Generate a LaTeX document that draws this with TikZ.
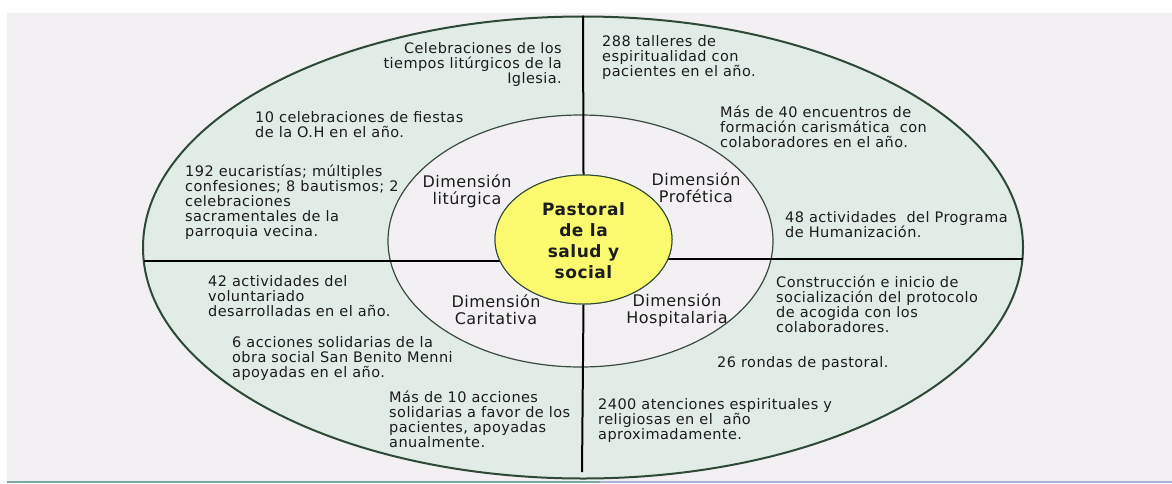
\documentclass[tikz,border=0pt]{standalone}
\usepackage{fontspec}
\setmainfont{DejaVu Sans}[LetterSpace=3]
\usetikzlibrary{shapes.geometric}
\definecolor{bg}{HTML}{F2F0F3}
\definecolor{outerfill}{HTML}{E1ECE7}
\definecolor{rim}{HTML}{2E4A36}
\definecolor{innerrim}{HTML}{3A4A40}
\definecolor{yel}{HTML}{FBF96E}
\definecolor{txt}{HTML}{1C1C1C}
\definecolor{tealline}{HTML}{7AAAA0}
\definecolor{blueline}{HTML}{A8B4D8}
\begin{document}
\begin{tikzpicture}[x=1pt,y=-1pt,
  every node/.style={inner sep=0pt, text=txt},
  info/.style={font=\fontsize{14.5}{15}\selectfont, align=left, anchor=north west},
  infor/.style={info, align=right, anchor=north east},
  dimlabel/.style={font=\fontsize{16}{17}\selectfont, align=center},
  ring/.style={ellipse, draw},
  divider/.style={draw=black, line width=2pt}]
\useasboundingbox (0,0) rectangle (1172,483);
\fill[bg] (7,13) rectangle (1172,481);
\draw[tealline, line width=1.5pt] (7,482) -- (600,482);
\draw[blueline, line width=1.5pt] (600,482) -- (1172,482);

\node[ring, fill=outerfill, draw=rim, line width=2pt, minimum width=880pt, minimum height=462pt] (outer) at (583,247.5) {};
\node[ring, fill=bg, draw=innerrim, line width=1.2pt, minimum width=385pt, minimum height=252pt] (inner) at (580.5,241) {};

% dividers
\coordinate (lw) at (144,261);
\coordinate (le) at (500,261);
\coordinate (rw) at (668,259);
\coordinate (re) at (1022.5,259);
\coordinate (vb) at (582,472);
\node[ring, fill=yel, draw=rim, line width=1pt, minimum width=177pt, minimum height=129pt] (core) at (583.5,239.5) {};
\draw[divider] (outer.north) -- (core.north);
\draw[divider] (core.south) -- (vb);
\draw[divider] (lw) -- (le);
\draw[divider] (rw) -- (re);
\node[ring, fill=yel, draw=rim, line width=1pt, minimum width=177pt, minimum height=129pt] at (core) {};
\node[font=\fontsize{17}{21}\selectfont\bfseries, align=center] (ctext) at (583.5,241) {Pastoral\\de la\\salud y\\social};

% dimension labels
\node[dimlabel] (dlit) at (467,191) {Dimensión\\litúrgica};
\node[dimlabel] (dpro) at (696,188) {Dimensión\\Profética};
\node[dimlabel] (dcar) at (496,310) {Dimensión\\Caritativa};
\node[dimlabel] (dhos) at (677,310) {Dimensión\\Hospitalaria};

% info texts
\node[infor] (t1) at (562,42) {Celebraciones de los\\tiempos litúrgicos de la\\Iglesia.};
\node[info] (t2) at (255,111) {10 celebraciones de fiestas\\de la O.H en el año.};
\node[info] (t3) at (185,165) {192 eucaristías; múltiples\\confesiones; 8 bautismos; 2\\celebraciones\\sacramentales de la\\parroquia vecina.};
\node[info] (t4) at (602,35) {288 talleres de\\espiritualidad con\\pacientes en el año.};
\node[info] (t5) at (720,106) {Más de 40 encuentros de\\formación carismática\ \ con\\colaboradores en el año.};
\node[info] (t6) at (785,211) {48 actividades\ \ del Programa\\de Humanización.};
\node[info] (t7) at (208,275) {42 actividades del\\voluntariado\\desarrolladas en el año.};
\node[info] (t8) at (232,336) {6 acciones solidarias de la\\obra social San Benito Menni\\apoyadas en el año.};
\node[info] (t9) at (389,391) {Más de 10 acciones\\solidarias a favor de los\\pacientes, apoyadas\\anualmente.};
\node[info] (t10) at (598,398) {2400 atenciones espirituales y\\religiosas en el\ \ año\\aproximadamente.};
\node[info] (t11) at (776,276) {Construcción e inicio de\\socialización del protocolo\\de acogida con los\\colaboradores.};
\node[info] (t12) at (717,356) {26 rondas de pastoral.};
\end{tikzpicture}
\end{document}
